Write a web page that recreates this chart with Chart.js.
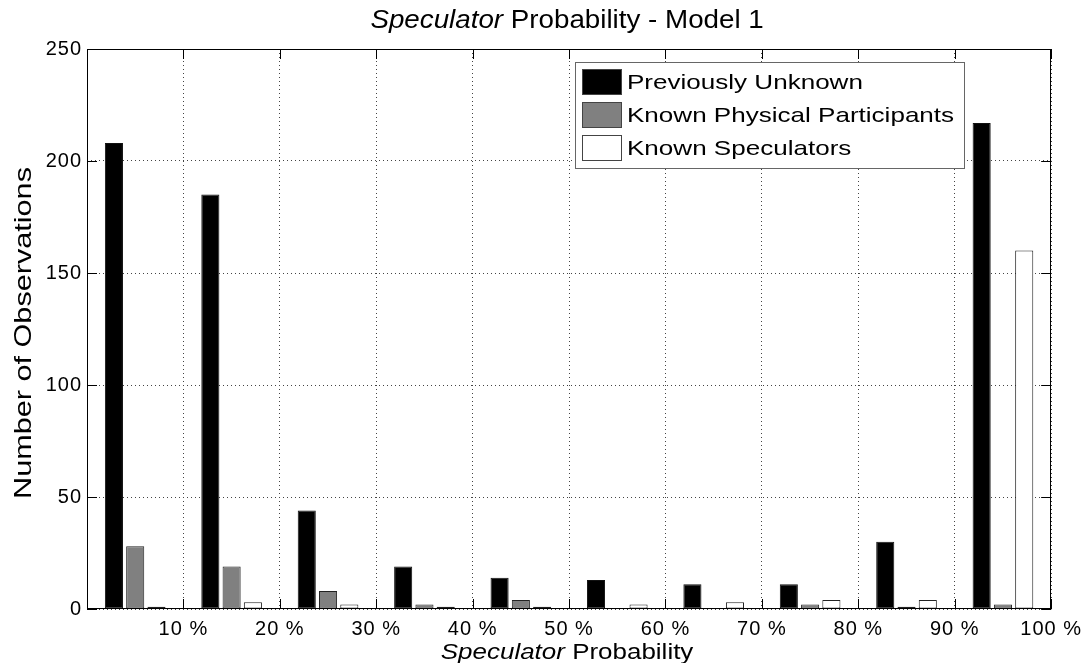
<!DOCTYPE html>
<html>
<head>
<meta charset="utf-8">
<script src="https://cdn.jsdelivr.net/npm/chart.js@4.4.1/dist/chart.umd.min.js"></script>
<style>
html,body{margin:0;padding:0;background:#fff;overflow:hidden;}
canvas{display:block;}
</style>
</head>
<body>
<canvas id="c" width="1090" height="663" style="width:1090px;height:663px"></canvas>
<script>
// ---- data ----
const categories = ['0-10 %','10-20 %','20-30 %','30-40 %','40-50 %','50-60 %','60-70 %','70-80 %','80-90 %','90-100 %'];
const seriesNames = ['Previously Unknown','Known Physical Participants','Known Speculators'];
const previouslyUnknown = [208,185,44,19,14,13,11,11,30,217];
const knownPhysical     = [28,19,8,2,4,0,0,2,1,2];
const knownSpeculators  = [1,3,2,1,1,2,3,4,4,160];
const xTickLabels = ['10 %','20 %','30 %','40 %','50 %','60 %','70 %','80 %','90 %','100 %'];
const yTickValues = [0,50,100,150,200,250];
const titleItalic = 'Speculator';
const titleRest = ' Probability - Model 1';
const xTitleItalic = 'Speculator';
const xTitleRest = ' Probability';
const yTitle = 'Number of Observations';

const FAM = "'Liberation Sans', Arial, Helvetica, sans-serif";
const TICK_LS = '1px';

const spacing = {
  id: 'spacing',
  beforeLayout(chart) { chart.ctx.letterSpacing = TICK_LS; },
  beforeDraw(chart) { chart.ctx.letterSpacing = TICK_LS; }
};

const matlabFrame = {
  id: 'matlabFrame',
  afterDraw(chart) {
    const {ctx, chartArea: a, scales} = chart;
    ctx.save();
    ctx.letterSpacing = '0px';
    ctx.setLineDash([]);
    // axes box
    ctx.strokeStyle = '#000';
    ctx.lineWidth = 1;
    ctx.strokeRect(Math.round(a.left) + 0.5, Math.round(a.top) + 0.5, Math.round(a.right - a.left) - 1, Math.round(a.bottom - a.top) - 1);
    // inward tick marks
    const tl = 10;
    ctx.beginPath();
    scales.y.ticks.forEach(t => {
      const y = Math.round(scales.y.getPixelForValue(t.value)) + 0.5;
      ctx.moveTo(a.left, y); ctx.lineTo(a.left + tl, y);
      ctx.moveTo(a.right, y); ctx.lineTo(a.right - tl, y);
    });
    scales.x2.ticks.forEach(t => {
      const x = Math.round(scales.x2.getPixelForValue(t.value)) + 0.5;
      ctx.moveTo(x, a.top); ctx.lineTo(x, a.top + tl);
      ctx.moveTo(x, a.bottom); ctx.lineTo(x, a.bottom - tl);
    });
    ctx.stroke();

    // mixed-style texts (italic word + normal), stretched horizontally
    const drawMixed = (it, rest, size, sx, cx, cy) => {
      const fi = 'italic ' + size + 'px ' + FAM;
      const fn = size + 'px ' + FAM;
      ctx.font = fi; const wi = ctx.measureText(it).width;
      ctx.font = fn; const wr = ctx.measureText(rest).width;
      ctx.save();
      ctx.translate(cx, cy);
      ctx.scale(sx, 1);
      const x0 = -(wi + wr) / 2;
      ctx.fillStyle = '#000';
      ctx.textBaseline = 'middle';
      ctx.textAlign = 'left';
      ctx.font = fi; ctx.fillText(it, x0, 0);
      ctx.font = fn; ctx.fillText(rest, x0 + wi, 0);
      ctx.restore();
    };
    const cx = (a.left + a.right) / 2;
    drawMixed(titleItalic, titleRest, 25, 1.11, cx - 2, 21);
    drawMixed(xTitleItalic, xTitleRest, 22, 1.18, cx - 2, 653);

    // y axis title (rotated, stretched along its length)
    ctx.save();
    ctx.font = '24.5px ' + FAM;
    ctx.translate(24, (a.top + a.bottom) / 2 + 4);
    ctx.rotate(-Math.PI / 2);
    ctx.scale(1.25, 1);
    ctx.textAlign = 'center';
    ctx.textBaseline = 'middle';
    ctx.fillStyle = '#000';
    ctx.fillText(yTitle, 0, 0);
    ctx.restore();

    // legend
    const ds = chart.data.datasets;
    const LSX = 1.24;
    ctx.font = '21px ' + FAM;
    let maxW = 0;
    ds.forEach(d => { maxW = Math.max(maxW, ctx.measureText(d.label).width * LSX); });
    const bx = Math.round(a.left + 0.506 * (a.right - a.left)) + 0.5;
    const by = Math.round(a.top + 13) + 0.5;
    const textX = bx + 51.5;
    const bw = Math.round(textX - bx + maxW + 10);
    const bh = 106;
    ctx.fillStyle = '#fff';
    ctx.fillRect(bx, by, bw, bh);
    ctx.strokeStyle = '#666';
    ctx.strokeRect(bx, by, bw, bh);
    ds.forEach((d, i) => {
      const sy = Math.round(by + 6 + i * 33.2) + 0.5;
      ctx.fillStyle = d.backgroundColor;
      ctx.fillRect(bx + 7, sy, 39, 25);
      ctx.strokeStyle = '#444';
      ctx.strokeRect(bx + 7, sy, 39, 25);
      ctx.save();
      ctx.translate(textX, sy + 14);
      ctx.scale(LSX, 1);
      ctx.fillStyle = '#000';
      ctx.textBaseline = 'middle';
      ctx.textAlign = 'left';
      ctx.fillText(d.label, 0, 0);
      ctx.restore();
    });
    ctx.restore();
  }
};

const common = {borderWidth: 1, borderSkipped: false, categoryPercentage: 0.662, barPercentage: 0.85};

new Chart(document.getElementById('c'), {
  type: 'bar',
  data: {
    labels: categories,
    datasets: [
      Object.assign({label: seriesNames[0], data: previouslyUnknown, backgroundColor: '#000000', borderColor: '#111111'}, common),
      Object.assign({label: seriesNames[1], data: knownPhysical, backgroundColor: '#808080', borderColor: '#222222'}, common),
      Object.assign({label: seriesNames[2], data: knownSpeculators, backgroundColor: '#ffffff', borderColor: '#222222'}, common)
    ]
  },
  options: {
    responsive: false,
    animation: false,
    layout: {padding: {top: 49, right: 37, bottom: 0, left: 0}},
    plugins: {legend: {display: false}, title: {display: false}, tooltip: {enabled: false}},
    scales: {
      x: {type: 'category', display: false, offset: true, grid: {display: false}},
      x2: {
        type: 'linear', position: 'bottom', min: 0, max: 10, offset: false,
        ticks: {
          stepSize: 1, autoSkip: false, maxRotation: 0, color: '#000', padding: 8,
          font: {family: FAM, size: 20},
          callback: v => (v === 0 ? '' : xTickLabels[v - 1])
        },
        grid: {color: '#444', lineWidth: 1, drawTicks: false, offset: false},
        border: {display: false, dash: [1, 3]},
        afterFit: s => { s.height = 54; }
      },
      y: {
        min: 0, max: 250,
        afterBuildTicks: s => { s.ticks = yTickValues.map(v => ({value: v})); },
        ticks: {color: '#000', padding: 5, font: {family: FAM, size: 20}, callback: v => String(v)},
        grid: {color: '#444', lineWidth: 1, drawTicks: false},
        border: {display: false, dash: [1, 3]},
        afterFit: s => { s.width = 87; }
      }
    }
  },
  plugins: [spacing, matlabFrame]
});
</script>
</body>
</html>
